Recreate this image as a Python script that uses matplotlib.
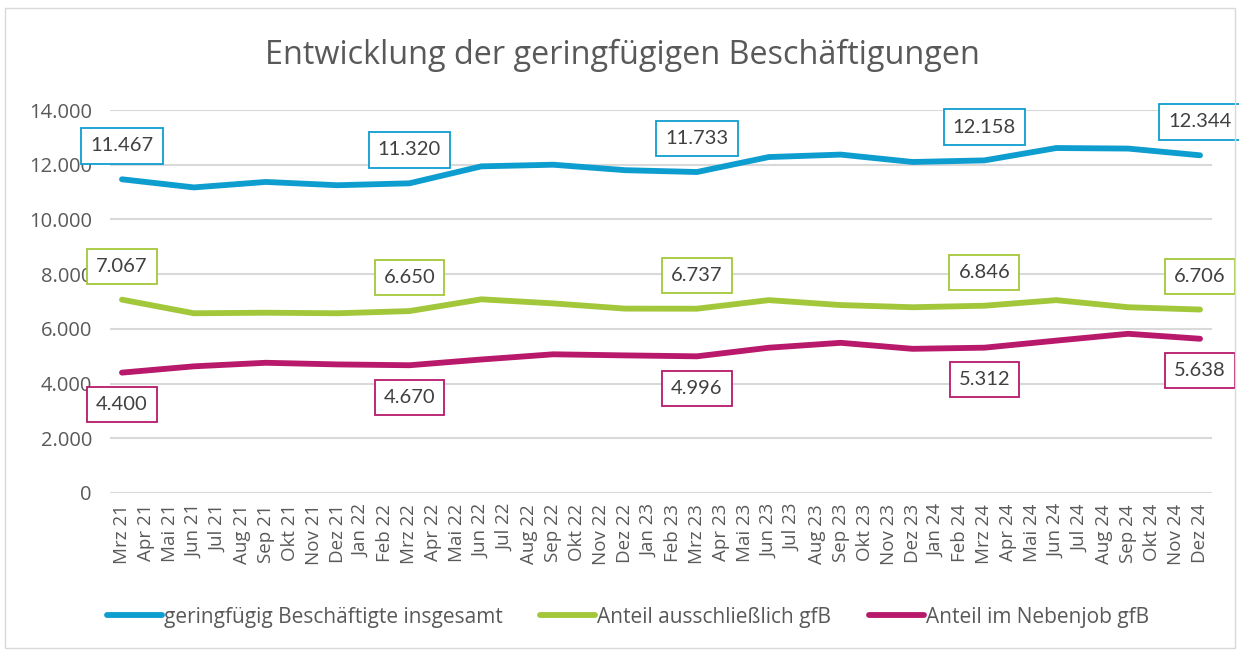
import matplotlib
matplotlib.use("Agg")
import matplotlib.pyplot as plt
from matplotlib.patches import Rectangle

plt.rcParams['font.family'] = ['Open Sans', 'DejaVu Sans']

months = ["Mrz 21", "Apr 21", "Mai 21", "Jun 21", "Jul 21", "Aug 21", "Sep 21", "Okt 21", "Nov 21", "Dez 21",
          "Jan 22", "Feb 22", "Mrz 22", "Apr 22", "Mai 22", "Jun 22", "Jul 22", "Aug 22", "Sep 22", "Okt 22", "Nov 22", "Dez 22",
          "Jan 23", "Feb 23", "Mrz 23", "Apr 23", "Mai 23", "Jun 23", "Jul 23", "Aug 23", "Sep 23", "Okt 23", "Nov 23", "Dez 23",
          "Jan 24", "Feb 24", "Mrz 24", "Apr 24", "Mai 24", "Jun 24", "Jul 24", "Aug 24", "Sep 24", "Okt 24", "Nov 24", "Dez 24"]

# quarterly observation months
obs_months = ["Mrz 21", "Jun 21", "Sep 21", "Dez 21",
              "Mrz 22", "Jun 22", "Sep 22", "Dez 22",
              "Mrz 23", "Jun 23", "Sep 23", "Dez 23",
              "Mrz 24", "Jun 24", "Sep 24", "Dez 24"]

insgesamt = [11467, 11170, 11370, 11250, 11320, 11940, 12000, 11800,
             11733, 12280, 12370, 12100, 12158, 12610, 12590, 12344]
ausschl = [7067, 6570, 6590, 6570, 6650, 7080, 6930, 6740,
           6737, 7050, 6870, 6790, 6846, 7050, 6790, 6706]
neben = [4400, 4630, 4760, 4700, 4670, 4880, 5070, 5030,
         4996, 5310, 5490, 5270, 5312, 5570, 5820, 5638]

label_months = ["Mrz 21", "Mrz 22", "Mrz 23", "Mrz 24", "Dez 24"]

series_names = ["geringfügig Beschäftigte insgesamt", "Anteil ausschließlich gfB", "Anteil im Nebenjob gfB"]
colors = ["#0E9DCF", "#A3C73A", "#B8196B"]

fig = plt.figure(figsize=(12.39, 6.5), dpi=100)
ax = fig.add_axes([110/1239, 1-493/650, (1212-110)/1239, (493-110)/650])

xpos = [months.index(m) for m in obs_months]
lab_idx = [obs_months.index(m) for m in label_months]

all_series = [insgesamt, ausschl, neben]
offsets = [24, 24, -23]
lines = []
for vals, col, name, off in zip(all_series, colors, series_names, offsets):
    ln, = ax.plot(xpos, vals, color=col, lw=4.2, solid_capstyle='round', solid_joinstyle='round', label=name, zorder=3)
    lines.append(ln)
    for i in lab_idx:
        v = vals[i]
        txt = f"{v:,}".replace(",", ".")
        ax.annotate(txt, (xpos[i], v), xytext=(0, off), textcoords='offset points',
                    ha='center', va='center', fontsize=14.5, color='#404040',
                    family=['Lato', 'DejaVu Sans'], annotation_clip=False, zorder=4,
                    bbox=dict(boxstyle='square,pad=0.45', fc='white', ec=col, lw=1.3))

ax.set_xlim(-0.5, len(months) - 0.5)
ax.set_ylim(0, 14000)
ax.set_xticks(range(len(months)))
ax.set_xticklabels(months, rotation=90, fontsize=13.5, color='#595959')
yt = [0, 2000, 4000, 6000, 8000, 10000, 12000, 14000]
ax.set_yticks(yt)
ax.set_yticklabels([f"{v:,}".replace(",", ".") for v in yt], fontsize=14.5, color='#595959')
ax.tick_params(length=0, pad=8)
ax.tick_params(axis='y', pad=13)
ax.grid(axis='y', color='#D9D9D9', lw=1.5)
ax.set_axisbelow(True)
for s in ax.spines.values():
    s.set_visible(False)

fig.text(622/1239, 1-55/650, "Entwicklung der geringfügigen Beschäftigungen", ha='center', va='center',
         fontsize=23.3, color='#595959')

fig.legend(handles=lines, loc='center', bbox_to_anchor=(628/1239, 1-617/650), ncol=3, frameon=False,
           fontsize=15, handlelength=2.65, handletextpad=0.1, columnspacing=1.8,
           labelcolor='#595959')

fig.patches.append(Rectangle((5/1239, 2/650), 1230/1239, 640/650, transform=fig.transFigure,
                             fill=False, ec='#D9D9D9', lw=1))

fig.savefig("out.png", dpi=100)
